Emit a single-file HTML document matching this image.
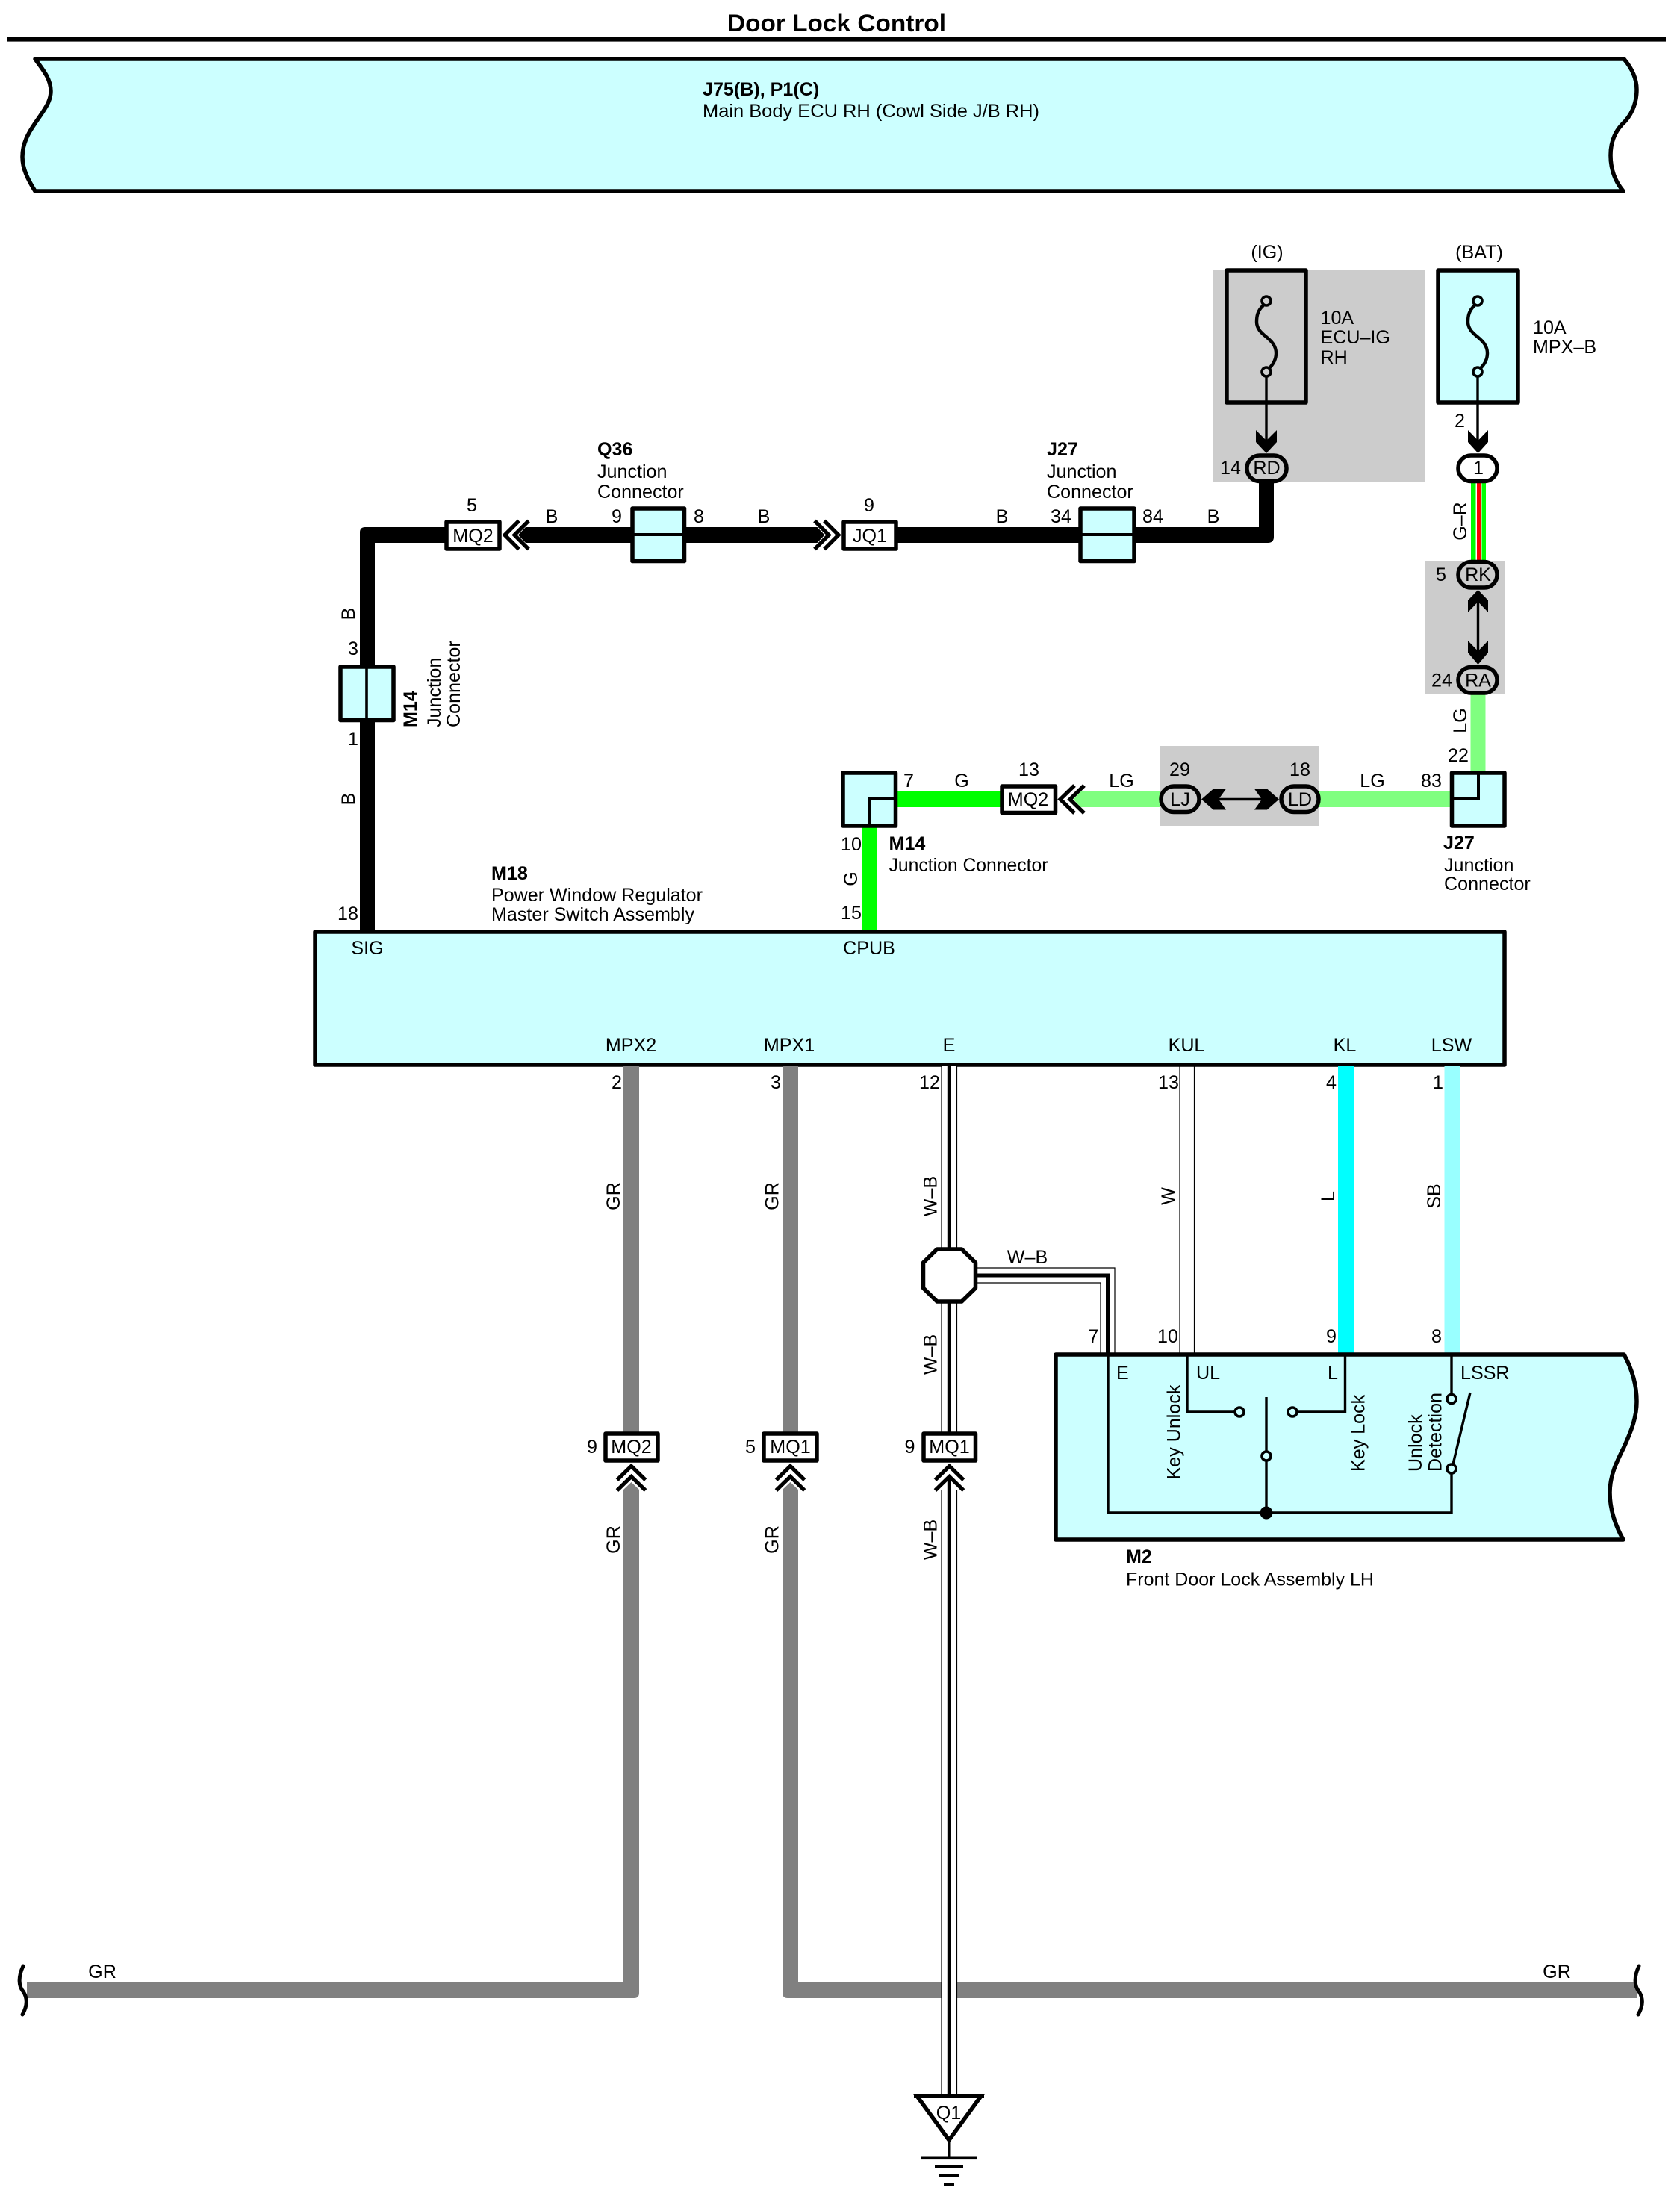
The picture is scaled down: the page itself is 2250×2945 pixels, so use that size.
<!DOCTYPE html>
<html><head><meta charset="utf-8"><title>Door Lock Control</title>
<style>
html,body{margin:0;padding:0;background:#fff}
svg{display:block}
text{font-family:"Liberation Sans",Arial,sans-serif;font-size:25.1px;fill:#000}
.m{text-anchor:middle}
.b{font-weight:bold}
.o{fill:none;stroke:#000}
.box{fill:#ccffff;stroke:#000;stroke-width:5.5;stroke-linejoin:round}
.wb{fill:#fff;stroke:#000;stroke-width:5.5;stroke-linejoin:round}
.gb{fill:#ccc;stroke:#000;stroke-width:5.5;stroke-linejoin:round}
.l{fill:none;stroke:#000;stroke-width:3.4}
.ch{fill:none;stroke:#000;stroke-width:5.2;stroke-linejoin:miter}
.thin{stroke:#000;stroke-width:1.2}
</style></head><body>
<svg width="2250" height="2945" viewBox="0 0 2250 2945" xmlns="http://www.w3.org/2000/svg">
<rect width="2250" height="2945" fill="#fff"/>

<!-- title -->
<text x="974" y="42" class="b" style="font-size:32px" textLength="293" lengthAdjust="spacingAndGlyphs">Door Lock Control</text>
<rect x="9" y="50" width="2222" height="5.6" fill="#000"/>

<!-- top band -->
<path class="box" d="M47 79 H2175 C2186 92 2192 106 2192 120 C2192 140 2184 156 2172 167 C2162 178 2157 192 2157 208 C2157 228 2164 244 2174 256 H47 C37 240 30 226 30 210 C30 192 38 178 47 165 C60 146 68 136 68 122 C68 106 58 94 47 79 Z"/>
<text x="941" y="128" class="b">J75(B), P1(C)</text>
<text x="941" y="157" textLength="451" lengthAdjust="spacingAndGlyphs">Main Body ECU RH (Cowl Side J/B RH)</text>

<!-- gray backgrounds -->
<rect x="1625" y="362" width="284" height="284" fill="#ccc"/>
<rect x="1908" y="751" width="107" height="178" fill="#ccc"/>
<rect x="1554" y="999" width="213" height="107" fill="#ccc"/>

<!-- fuses -->
<rect class="gb" x="1643" y="362" width="106" height="177"/>
<rect class="box" x="1926" y="362" width="107" height="177"/>
<path class="l" style="stroke-width:4.4" d="M1692 409 C1684 416 1683 424 1683 431 C1683 450 1709 452 1709 473 C1709 482 1705 488 1700 493"/>
<path class="l" style="stroke-width:4.4" d="M1975 409 C1967 416 1966 424 1966 431 C1966 450 1992 452 1992 473 C1992 482 1988 488 1983 493"/>
<circle cx="1696" cy="403" r="6" fill="#ccc" stroke="#000" stroke-width="3.6"/>
<circle cx="1696" cy="498" r="6" fill="#ccc" stroke="#000" stroke-width="3.6"/>
<circle cx="1979" cy="403" r="6" fill="#ccffff" stroke="#000" stroke-width="3.6"/>
<circle cx="1979" cy="498" r="6" fill="#ccffff" stroke="#000" stroke-width="3.6"/>
<line class="l" x1="1696" y1="504" x2="1696" y2="590"/>
<line class="l" x1="1979" y1="504" x2="1979" y2="590"/>
<polygon points="1682,576 1696,590 1710,576 1710,592 1696,607 1682,592"/>
<polygon points="1966,576 1979.5,590 1993,576 1993,592 1979.5,607 1966,592"/>
<text x="1697" y="346" class="m">(IG)</text>
<text x="1981" y="346" class="m">(BAT)</text>
<text x="1768.500" y="434">10A</text>
<text x="1768.500" y="460">ECU–IG</text>
<text x="1768.500" y="487">RH</text>
<text x="2053" y="447">10A</text>
<text x="2053" y="473">MPX–B</text>
<text x="1955" y="572" class="m">2</text>

<!-- black wire top -->
<path fill="#000" d="M482 1246 V713 Q482 706 489 706 H596 V727 H502 V1246 Z"/>
<polygon fill="#000" points="694,716.5 704,706 845,706 845,727 704,727"/>
<polygon fill="#000" points="919,706 1094.5,706 1104.5,716.5 1094.5,727 919,727"/>
<path fill="#000" d="M1202 706 H1686 V645 H1706 V719 Q1706 727 1698 727 H1202 Z"/>

<!-- MQ2 / JQ1 top -->
<rect class="wb" x="598" y="699" width="71" height="36"/>
<text x="633.5" y="726" class="m">MQ2</text>
<polyline class="ch" points="695,697.5 676,716.5 695,735.5"/>
<polyline class="ch" points="708,697.5 689,716.5 708,735.5"/>
<rect class="wb" x="1130" y="699" width="70" height="36"/>
<text x="1165" y="726" class="m">JQ1</text>
<polyline class="ch" points="1104,697.5 1123,716.5 1104,735.5"/>
<polyline class="ch" points="1091,697.5 1110,716.5 1091,735.5"/>

<!-- junctions top -->
<rect class="box" x="847" y="681" width="69.500" height="70.500"/>
<line x1="847" y1="716" x2="916" y2="716" stroke="#000" stroke-width="4"/>
<rect class="box" x="1447" y="681" width="72" height="70.500"/>
<line x1="1447" y1="716" x2="1519" y2="716" stroke="#000" stroke-width="4"/>
<rect class="box" x="456" y="893" width="71" height="71.500"/>
<line x1="491" y1="893" x2="491" y2="965" stroke="#000" stroke-width="3.6"/>

<text x="632" y="685" class="m">5</text>
<text x="739" y="700" class="m">B</text>
<text x="826" y="700" class="m">9</text>
<text x="936" y="700" class="m">8</text>
<text x="1023" y="700" class="m">B</text>
<text x="1164" y="685" class="m">9</text>
<text x="1342" y="700" class="m">B</text>
<text x="1421" y="700" class="m">34</text>
<text x="1544" y="700" class="m">84</text>
<text x="1625" y="700" class="m">B</text>
<text x="800" y="610" class="b">Q36</text>
<text x="800" y="640">Junction</text>
<text x="800" y="667">Connector</text>
<text x="1402" y="610" class="b">J27</text>
<text x="1402" y="640">Junction</text>
<text x="1402" y="667">Connector</text>

<!-- left labels -->
<text x="473" y="877" class="m">3</text>
<text x="473" y="998" class="m">1</text>
<text x="466" y="1232" class="m">18</text>
<text transform="translate(475,822) rotate(-90)" class="m">B</text>
<text transform="translate(475,1070) rotate(-90)" class="m">B</text>
<text transform="translate(558,974) rotate(-90)" class="b">M14</text>
<text transform="translate(590,974) rotate(-90)">Junction</text>
<text transform="translate(616,974) rotate(-90)">Connector</text>
<text x="658" y="1178" class="b">M18</text>
<text x="658" y="1207" textLength="283" lengthAdjust="spacingAndGlyphs">Power Window Regulator</text>
<text x="658" y="1233" textLength="272" lengthAdjust="spacingAndGlyphs">Master Switch Assembly</text>

<!-- G / LG wires -->
<rect x="1154" y="1107" width="21" height="140" fill="#00ff00"/>
<rect x="1200" y="1060" width="141" height="21" fill="#00ff00"/>
<polygon fill="#80ff80" points="1437.500,1070.500 1447.500,1060 1554,1060 1554,1081 1447.500,1081"/>
<rect x="1767" y="1060" width="177" height="21" fill="#80ff80"/>
<rect x="1969.500" y="929" width="20" height="105" fill="#80ff80"/>

<!-- G-R wire -->
<rect x="1970" y="645" width="20" height="106" fill="#00ff00"/>
<rect x="1976.500" y="645" width="8" height="106" fill="#fff"/>
<rect x="1978" y="645" width="5" height="106" fill="#ff0000"/>

<!-- connectors ovals -->
<rect class="gb" x="1670" y="610" width="53" height="34.500" rx="17"/>
<text x="1696.500" y="635" class="m">RD</text>
<text x="1634" y="635">14</text>
<rect class="wb" x="1953" y="610" width="52" height="34.500" rx="17"/>
<text x="1980" y="635" class="m">1</text>
<rect class="gb" x="1953" y="752.500" width="52" height="34.500" rx="17"/>
<text x="1979.500" y="778" class="m">RK</text>
<text x="1930" y="778" class="m">5</text>
<rect class="gb" x="1953" y="893.500" width="52" height="34.500" rx="17"/>
<text x="1979.500" y="919.500" class="m">RA</text>
<text x="1931" y="919.500" class="m">24</text>
<line class="l" x1="1979.500" y1="806" x2="1979.500" y2="874"/>
<polygon points="1979.500,790 1993,804 1993,820 1979.500,806 1966,820 1966,804"/>
<polygon points="1966,858 1979.500,872 1993,858 1993,874 1979.500,890 1966,874"/>
<text transform="translate(1964,698) rotate(-90)" class="m">G–R</text>
<text transform="translate(1964,965) rotate(-90)" class="m">LG</text>

<!-- LJ / LD -->
<rect class="gb" x="1555" y="1053" width="51" height="34.500" rx="17"/>
<text x="1580.500" y="1079" class="m">LJ</text>
<rect class="gb" x="1716" y="1053" width="50" height="34.500" rx="17"/>
<text x="1741" y="1079" class="m">LD</text>
<line class="l" x1="1625" y1="1070.500" x2="1697" y2="1070.500"/>
<polygon points="1609,1070.500 1625,1056.500 1642,1056.500 1632,1070.500 1642,1084.500 1625,1084.500"/>
<polygon points="1713,1070.500 1697,1056.500 1680,1056.500 1690,1070.500 1680,1084.500 1697,1084.500"/>

<!-- MQ2 mid -->
<rect class="wb" x="1342" y="1053" width="71.500" height="35.500"/>
<text x="1377" y="1079" class="m">MQ2</text>
<polyline class="ch" points="1439,1052 1420,1070.500 1439,1089"/>
<polyline class="ch" points="1452,1052 1433,1070.500 1452,1089"/>

<!-- M14 and J27 corner junctions -->
<rect class="box" x="1129" y="1035" width="70.500" height="71"/>
<path class="o" stroke-width="4" d="M1164 1106 V1070 H1200"/>
<rect class="box" x="1944.500" y="1035" width="70.500" height="71"/>
<path class="o" stroke-width="4" d="M1980 1035 V1070 H1945"/>

<text x="1217" y="1054" class="m">7</text>
<text x="1288" y="1054" class="m">G</text>
<text x="1378" y="1039" class="m">13</text>
<text x="1502" y="1054" class="m">LG</text>
<text x="1580" y="1039" class="m">29</text>
<text x="1741" y="1039" class="m">18</text>
<text x="1838" y="1054" class="m">LG</text>
<text x="1917" y="1054" class="m">83</text>
<text x="1953" y="1020" class="m">22</text>
<text x="1140" y="1139" class="m">10</text>
<text x="1140" y="1231" class="m">15</text>
<text transform="translate(1148,1177) rotate(-90)" class="m">G</text>
<text x="1190.500" y="1138" class="b">M14</text>
<text x="1190.500" y="1167" textLength="213" lengthAdjust="spacingAndGlyphs">Junction Connector</text>
<text x="1933" y="1137" class="b">J27</text>
<text x="1934" y="1167">Junction</text>
<text x="1934" y="1192">Connector</text>

<!-- M18 box -->
<rect class="box" x="422" y="1248" width="1593" height="178"/>
<text x="492" y="1278" class="m">SIG</text>
<text x="1164" y="1278" class="m">CPUB</text>
<text x="845" y="1408" class="m">MPX2</text>
<text x="1057" y="1408" class="m">MPX1</text>
<text x="1271" y="1408" class="m">E</text>
<text x="1589" y="1408" class="m">KUL</text>
<text x="1801" y="1408" class="m">KL</text>
<text x="1944" y="1408" class="m">LSW</text>

<!-- gray wires -->
<rect x="835" y="1428" width="21" height="490" fill="#808080"/>
<rect x="1048" y="1428" width="21" height="490" fill="#808080"/>
<path fill="#808080" d="M835 1995 L845.500 1985 L856 1995 V2669 Q856 2676 849 2676 H36 V2655 H835 Z"/>
<path fill="#808080" d="M1048 1995 L1058.500 1985 L1069 1995 V2655 H2192 V2676 H1055 Q1048 2676 1048 2669 Z"/>
<path class="o" stroke-width="5" stroke-linecap="round" d="M31 2633 C24 2648 25 2660 31 2667 C37 2676 37 2686 30 2698"/>
<path class="o" stroke-width="5" stroke-linecap="round" d="M2195 2633 C2188 2648 2189 2660 2195 2667 C2201 2676 2201 2686 2194 2698"/>
<text x="137" y="2649" class="m">GR</text>
<text x="2085" y="2649" class="m">GR</text>

<!-- E wire (W-B) -->
<rect x="1261" y="1428" width="21" height="244" fill="#fff"/>
<line class="thin" x1="1261" y1="1428" x2="1261" y2="1672"/>
<line class="thin" x1="1281.500" y1="1428" x2="1281.500" y2="1672"/>
<rect x="1268.800" y="1428" width="5" height="244" fill="#000"/>
<rect x="1261" y="1744" width="21" height="172" fill="#fff"/>
<line class="thin" x1="1261" y1="1744" x2="1261" y2="1918"/>
<line class="thin" x1="1281.500" y1="1744" x2="1281.500" y2="1918"/>
<rect x="1268.800" y="1744" width="5" height="174" fill="#000"/>
<rect x="1261" y="1995" width="21" height="811" fill="#fff"/>
<line class="thin" x1="1261" y1="1995" x2="1261" y2="2806"/>
<line class="thin" x1="1281.500" y1="1995" x2="1281.500" y2="2806"/>
<rect x="1268.800" y="1978" width="5" height="828" fill="#000"/>

<!-- branch W-B -->
<path fill="none" stroke="#000" stroke-width="1.2" d="M1308 1698 H1493 V1813"/>
<path fill="none" stroke="#000" stroke-width="1.2" d="M1308 1718 H1474 V1813"/>
<path fill="none" stroke="#000" stroke-width="5" d="M1308 1708 H1483.500 V1813"/>
<polygon class="wb" points="1255,1673 1288,1673 1306.500,1691 1306.500,1725 1288,1743 1255,1743 1236.500,1725 1236.500,1691"/>
<text x="1376" y="1692" class="m">W–B</text>

<!-- KUL / KL / LSW wires -->
<line class="thin" x1="1580" y1="1428" x2="1580" y2="1813"/>
<line class="thin" x1="1599.500" y1="1428" x2="1599.500" y2="1813"/>
<rect x="1792" y="1428" width="21" height="385" fill="#00ffff"/>
<rect x="1934.500" y="1428" width="20.500" height="385" fill="#99ffff"/>

<text x="826" y="1458" class="m">2</text>
<text x="1039" y="1458" class="m">3</text>
<text x="1245" y="1458" class="m">12</text>
<text x="1565" y="1458" class="m">13</text>
<text x="1783" y="1458" class="m">4</text>
<text x="1926" y="1458" class="m">1</text>
<text transform="translate(830,1602) rotate(-90)" class="m">GR</text>
<text transform="translate(1042.500,1602) rotate(-90)" class="m">GR</text>
<text transform="translate(1254.500,1602) rotate(-90)" class="m">W–B</text>
<text transform="translate(1573,1602) rotate(-90)" class="m">W</text>
<text transform="translate(1787,1602) rotate(-90)" class="m">L</text>
<text transform="translate(1929,1602) rotate(-90)" class="m">SB</text>
<text transform="translate(1254.500,1814) rotate(-90)" class="m">W–B</text>
<text transform="translate(830,2062) rotate(-90)" class="m">GR</text>
<text transform="translate(1042.500,2062) rotate(-90)" class="m">GR</text>
<text transform="translate(1254.500,2062) rotate(-90)" class="m">W–B</text>

<!-- MQ boxes vertical -->
<rect class="wb" x="811" y="1920" width="70" height="36"/>
<text x="845.500" y="1946" class="m">MQ2</text>
<text x="793" y="1946" class="m">9</text>
<rect class="wb" x="1023" y="1920" width="71" height="36"/>
<text x="1058.500" y="1946" class="m">MQ1</text>
<text x="1005" y="1946" class="m">5</text>
<rect class="wb" x="1237" y="1920" width="69.500" height="36"/>
<text x="1271.500" y="1946" class="m">MQ1</text>
<text x="1218.500" y="1946" class="m">9</text>
<polyline class="ch" points="826.500,1982 845.500,1963.500 864.500,1982"/>
<polyline class="ch" points="826.500,1996 845.500,1977.500 864.500,1996"/>
<polyline class="ch" points="1039.500,1982 1058.500,1963.500 1077.500,1982"/>
<polyline class="ch" points="1039.500,1996 1058.500,1977.500 1077.500,1996"/>
<polyline class="ch" points="1252.500,1982 1271.500,1963.500 1290.500,1982"/>
<polyline class="ch" points="1252.500,1996 1271.500,1977.500 1290.500,1996"/>

<!-- M2 box -->
<path class="box" d="M1414 1814 H2175 C2186 1834 2192 1856 2192 1877 C2192 1900 2183 1920 2175 1938 C2165 1958 2156 1976 2156 1999 C2156 2022 2164 2044 2174 2062 H1414 Z"/>
<text x="1464.500" y="1798" class="m">7</text>
<text x="1564" y="1798" class="m">10</text>
<text x="1783" y="1798" class="m">9</text>
<text x="1924" y="1798" class="m">8</text>
<path class="l" d="M1484 1814 V2026 H1944 V1967"/>
<path class="l" d="M1590 1814 V1891 H1660"/>
<path class="l" d="M1801.500 1814 V1891 H1731"/>
<path class="l" d="M1696 1871 V2026"/>
<path class="l" d="M1944 1814 V1873"/>
<path class="l" d="M1946 1961 L1969 1865"/>
<circle cx="1660" cy="1891" r="6" fill="#ccffff" stroke="#000" stroke-width="3.6"/>
<circle cx="1731" cy="1891" r="6" fill="#ccffff" stroke="#000" stroke-width="3.6"/>
<circle cx="1696" cy="1950" r="6" fill="#ccffff" stroke="#000" stroke-width="3.6"/>
<circle cx="1944" cy="1873.500" r="6" fill="#ccffff" stroke="#000" stroke-width="3.6"/>
<circle cx="1944" cy="1967" r="6" fill="#ccffff" stroke="#000" stroke-width="3.6"/>
<circle cx="1696" cy="2026" r="8.500" fill="#000"/>
<text x="1495" y="1847">E</text>
<text x="1602" y="1847">UL</text>
<text x="1778" y="1847">L</text>
<text x="1956" y="1847">LSSR</text>
<text transform="translate(1580.500,1981.500) rotate(-90)">Key Unlock</text>
<text transform="translate(1827.500,1971) rotate(-90)">Key Lock</text>
<text transform="translate(1904,1971) rotate(-90)">Unlock</text>
<text transform="translate(1930.500,1971) rotate(-90)">Detection</text>
<text x="1508" y="2093" class="b">M2</text>
<text x="1508" y="2123.500" textLength="332" lengthAdjust="spacingAndGlyphs">Front Door Lock Assembly LH</text>

<!-- ground Q1 -->
<polygon fill="#fff" stroke="#000" stroke-width="5.500" stroke-linejoin="miter" points="1228,2807 1314,2807 1271,2866"/>
<rect x="1224" y="2804" width="94" height="6" fill="#000"/>
<text x="1270.500" y="2838" class="m">Q1</text>
<line x1="1271" y1="2868" x2="1271" y2="2889" stroke="#000" stroke-width="3"/>
<rect x="1234" y="2888.500" width="74" height="3.600" fill="#000"/>
<rect x="1252" y="2899" width="38" height="4" fill="#000"/>
<rect x="1257" y="2911" width="27" height="4" fill="#000"/>
<rect x="1264" y="2923" width="14" height="4" fill="#000"/>
</svg>
</body></html>
